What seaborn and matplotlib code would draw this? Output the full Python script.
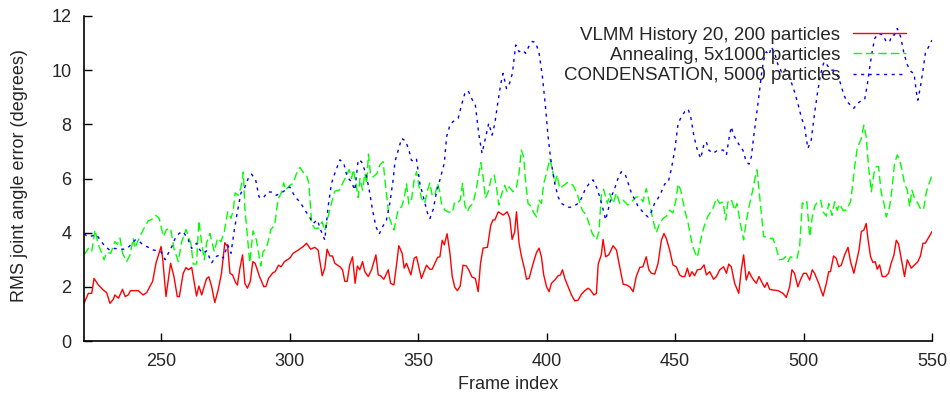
import numpy as np
import pandas as pd
import matplotlib
matplotlib.use("Agg")
import matplotlib.pyplot as plt
import seaborn as sns

# ---------------- data ----------------
labels = ["VLMM History 20, 200 particles",
          "Annealing, 5x1000 particles",
          "CONDENSATION, 5000 particles"]

vlmm_frame = [220, 221.7, 223, 223.9, 225.6, 227.5, 228.8, 230.1, 231.4, 232, 233.4, 235, 236, 237.2, 238.1, 239.8, 241.1, 243, 244.4, 246.7, 248, 250, 250.6, 251.9, 253.7, 255, 256.3, 257.1, 258.6, 259.7,
              260.6, 261.9, 263.8, 264.7, 265.8, 267.7, 268.6, 269.7, 270.9, 272.2, 273.5, 274.8, 275.9, 276.8, 277.8, 279, 279.7, 280.6, 281.7, 282.6, 283.6, 284.7, 285.7, 286.6, 288.3, 290, 290.9, 291.8, 293.5, 294.4, 295.7, 296.7, 298,
              300.1, 301.4, 303.4, 305.3, 306.6, 308.2, 309.8, 311.1, 312.7, 313.7, 314.6, 315.7, 316.7, 317.6, 319.6, 320.6, 321.5, 322.4, 323.4, 324.5, 325.5, 326.4, 327.3, 328.4, 329.3, 330.6, 331.9, 333.6, 334.5, 335.4, 336.7, 338.4, 339.3, 340.6, 341.7,
              342.5, 343.8, 344.6, 345.5, 347.2, 348.5, 349.4, 351.3, 353.3, 354.6, 355.5, 357.6, 358.5, 359.4, 360.2, 361.3, 362.4, 363.3, 364.3, 365.3, 366.4, 367.5, 368.8, 369.7, 371, 372.3, 373.4, 374.3, 375.3, 377, 378.3, 379.2, 379.9, 381.2,
              383.1, 384.7, 385.7, 386.6, 387.6, 388.3, 389.3, 390.2, 391.5, 392.2, 393.2, 394.8, 396.1, 397.1, 398, 398.9, 400, 401, 401.9, 403.2, 404.5, 405.4, 406.2, 407.1, 408.4, 409.7, 411, 412.3, 413.6, 414.9, 416.2, 417.1, 418.4, 419.4, 420.1, 421.3, 422, 423,
              424.2, 425.9, 427.2, 428.5, 429.8, 431.1, 432.4, 433.7, 434.9, 436.3, 437.5, 438.8, 439.8, 440.8, 442.1, 443.4, 444.7, 445.7, 446.6, 447.9, 449.2, 450.5, 451.8, 452.7, 453.8, 454.8, 455.7, 456.6, 457.6, 458.7, 460, 461.3, 462.2,
              463.5, 465, 466.1, 467.4, 468.9, 470, 470.9, 471.9, 473.2, 474.8, 475.8, 476.7, 477.7, 478.8, 479.7, 480.6, 481.6, 482.7, 484, 484.9, 485.8, 486.8, 488.4, 490.1, 492, 493.3, 494.6, 495.5, 496.5, 497.8, 498.9, 500, 501.1, 502.4, 503.4,
              504.3, 505.9, 507.6, 508.9, 509.8, 510.5, 511.7, 512.7, 513.7, 514.7, 516, 517.3, 518.3, 519.6, 520.9, 521.6, 522.5, 523.5, 524.4, 525.1, 526.1, 527, 527.9, 528.7, 529.6, 530.6, 531.9, 533.1, 534.1, 535.2, 536.1, 537, 538, 539.3, 540.4, 541.9, 543.2, 544.5, 545.5, 546.5, 547.4, 550]
vlmm_err = [1.39, 1.76, 1.76, 2.31, 2.07, 1.88, 1.79, 1.39, 1.54, 1.7, 1.58, 1.91, 1.64, 1.7, 1.86, 1.86, 1.86, 1.7, 1.79, 2.2, 2.87, 3.49, 3.06, 1.64, 2.87, 2.38, 1.64, 1.64, 2.5, 2.71,
            2.63, 2.72, 1.66, 2.03, 1.7, 2.31, 2.37, 2.0, 1.42, 1.88, 2.5, 3.63, 3.49, 2.5, 2.44, 2.16, 2.07, 2.65, 3.18, 2.13, 1.95, 2.2, 2.93, 2.87, 2.38, 2.0, 2.03, 2.31, 2.52, 2.56, 2.8, 2.74, 2.93,
            3.06, 3.24, 3.36, 3.49, 3.61, 3.39, 3.46, 3.36, 2.41, 2.69, 3.39, 3.14, 3.14, 2.87, 2.74, 2.63, 2.2, 2.2, 2.81, 3.11, 2.13, 2.77, 2.63, 2.93, 2.56, 2.38, 2.63, 3.18, 2.44, 2.41, 2.28, 2.63, 2.13, 2.07, 2.87,
            3.52, 3.24, 2.69, 2.87, 2.44, 3.06, 3.11, 2.31, 2.8, 2.65, 2.65, 3.09, 3.11, 3.72, 3.55, 3.96, 3.24, 2.38, 1.98, 1.86, 2.03, 2.8, 2.77, 2.63, 2.36, 2.31, 1.82, 2.87, 3.43, 3.46, 4.28, 4.47, 4.47, 4.77,
            4.65, 4.77, 4.53, 3.75, 4.03, 4.77, 3.61, 3.14, 2.63, 2.28, 2.31, 2.87, 3.27, 3.43, 3.11, 2.44, 2.0, 1.82, 2.13, 2.25, 2.41, 2.44, 2.63, 2.31, 2.0, 1.7, 1.48, 1.51, 1.73, 1.86, 1.95, 1.88, 1.7, 1.76, 2.84, 3.18, 3.75, 3.11,
            3.18, 3.52, 3.36, 2.74, 2.1, 2.07, 2.0, 1.82, 2.38, 2.72, 2.74, 3.11, 2.63, 2.5, 2.47, 2.87, 3.73, 3.97, 3.79, 3.36, 2.81, 2.74, 2.44, 2.38, 2.38, 2.69, 2.38, 2.56, 2.41, 2.63, 2.65, 2.81, 2.44,
            2.56, 2.28, 2.38, 2.63, 2.74, 2.5, 2.84, 2.74, 2.13, 1.76, 2.63, 3.18, 2.25, 2.56, 2.38, 2.25, 2.13, 2.38, 2.13, 1.98, 2.16, 1.91, 1.88, 1.86, 1.76, 1.61, 2.0, 2.63, 2.5, 2.0, 2.28, 2.5, 2.5, 2.25, 2.63,
            2.5, 2.13, 1.66, 2.13, 2.56, 2.56, 3.14, 3.06, 2.74, 2.8, 3.18, 3.46, 2.93, 2.5, 3.06, 3.36, 4.04, 4.1, 4.34, 3.75, 3.11, 2.9, 2.93, 2.65, 2.81, 2.38, 2.38, 2.5, 2.87, 3.18, 3.72, 3.58, 3.06, 2.38, 3.0, 2.69, 2.81, 2.93, 3.14, 3.61, 3.61, 4.04]

anneal_frame = [220, 221.7, 223, 224.3, 225.6, 226.9, 227.8, 228.8, 230.4, 232, 233, 234, 235, 236.6, 237.9, 239.2, 239.8, 241.1, 243, 245, 246.2, 248, 249.3, 250.9, 252.1, 253.7, 255, 256.7, 258, 259.7,
                260.6, 261.6, 262.5, 263.8, 264.7, 265.8, 266.8, 267.7, 269, 270.7, 272, 273.3, 274.6, 275.9, 277.2, 278.1, 278.8, 280.1, 281.1, 282, 282.6, 283.6, 284.5, 285.8, 287.1, 288.8, 289.7, 291, 292.7, 294.2, 295.5, 296.8, 297.7, 298.5,
                300.1, 301.4, 302.7, 304, 305.6, 306.6, 307.5, 308.6, 309.8, 311.1, 312.7, 313.7, 315, 316.3, 317.6, 319.3, 320.6, 321.9, 323.2, 324.1, 324.8, 325.8, 326.7, 327.4, 328.4, 329.3, 330, 330.7, 331.5, 332.5, 334.1, 335.1, 336.4, 337.4, 338.7, 339.6, 340.6,
                342.3, 343.6, 344.6, 345.5, 346.4, 347.4, 348.5, 349.4, 350.3, 351.3, 352.6, 353.7, 354.6, 355.5, 356.5, 357.6, 358.5, 359.1, 360.4, 361.7, 363.3, 364.3, 365.3, 366.4, 367.3, 368.2, 369.2, 370.1, 371.4, 372.7, 373.6, 374.4, 375.3, 376.2, 377.3, 378.6, 379.6, 380.5, 381.4,
                382.8, 383.7, 384.7, 385.4, 387, 388.3, 389.3, 390.2, 391.1, 391.9, 392.8, 394.1, 394.8, 396.1, 397.1, 398, 398.9, 400, 401.3, 402.3, 403.2, 404.1, 405.1, 406.7, 408.4, 410.3, 411.9, 412.9, 413.9, 415.5, 416.5, 417.8, 419.4, 420.4, 421.3, 422.2,
                423.7, 424.6, 425.9, 427.2, 428.5, 429.8, 431.7, 433.7, 434.9, 436.3, 437.5, 438.8, 440.1, 441.4, 442.7, 444, 445.3, 446.6, 447.9, 449.2, 450.5, 451.2, 452.2, 453.8, 455.1, 456.6, 457.6, 458.7, 460, 461.3, 462.8,
                464.8, 466.1, 467.4, 468.7, 469.7, 470.6, 471.9, 473.2, 474.1, 475.4, 476.7, 477.7, 478.8, 480.1, 481, 481.9, 482.7, 483.6, 484.5, 485.8, 486.8, 488.1, 489.4, 490.7, 492, 493, 494, 494.9, 496.2, 497.5, 498.5, 499.5, 500.4, 501.3, 502.4, 503.4,
                504.3, 505.4, 506.7, 507.6, 508.9, 509.8, 511.1, 512.1, 513.1, 514, 515.3, 516.6, 518.3, 519.2, 519.9, 520.9, 522.5, 523.5, 524.4, 525.3, 526.4, 527.4, 528.3, 529.2, 530.2, 531.3, 532.2, 533.5, 534.4, 535.4, 536.5, 537.4, 538.3, 539.3, 540.4, 541.3, 542.2, 543.2, 544.5, 545.8, 546.8, 547.8, 550]
anneal_err = [3.18, 3.42, 3.3, 4.1, 3.55, 3.24, 3.0, 3.27, 3.24, 3.67, 3.57, 3.8, 3.24, 2.93, 3.18, 3.8, 3.42, 3.73, 4.1, 4.44, 4.48, 4.64, 4.52, 3.85, 4.12, 4.16, 3.42, 2.93, 3.67, 4.12,
              3.85, 3.61, 2.84, 2.84, 4.44, 3.61, 3.0, 3.61, 3.97, 3.3, 3.8, 3.67, 4.04, 4.77, 4.53, 4.83, 5.47, 5.38, 5.69, 6.24, 4.9, 3.85, 2.89, 4.07, 3.73, 2.77, 3.3, 3.42, 4.12, 4.28, 5.23, 5.47, 5.84, 5.57,
              5.75, 5.82, 6.19, 6.41, 6.19, 6.13, 5.82, 4.34, 4.16, 4.16, 4.4, 4.07, 4.58, 5.1, 5.53, 5.57, 5.82, 6.06, 6.33, 6.0, 6.33, 5.82, 5.3, 6.0, 5.57, 6.19, 5.82, 6.9, 6.13, 6.06, 6.19, 6.5, 6.62, 5.69, 4.58, 4.34, 4.1,
              4.86, 4.96, 5.27, 5.8, 5.06, 5.2, 5.95, 6.25, 5.75, 5.27, 5.08, 5.57, 5.84, 5.38, 5.35, 5.82, 5.5, 5.08, 4.83, 4.77, 4.73, 5.14, 5.1, 5.2, 5.82, 5.02, 4.77, 4.96, 5.08, 5.63, 6.13, 6.59, 6.06, 5.27, 5.51, 6.06, 6.13, 5.69, 5.02,
              5.51, 5.75, 5.51, 5.69, 5.51, 5.69, 6.21, 7.05, 6.8, 5.82, 5.08, 4.96, 4.77, 4.58, 5.2, 5.08, 5.82, 6.19, 6.74, 6.33, 5.82, 6.13, 5.63, 5.75, 5.87, 5.75, 5.44, 5.14, 4.83, 4.64, 4.34, 3.97, 3.73, 4.04, 5.38, 5.6,
              5.08, 5.44, 5.08, 5.47, 5.08, 5.2, 5.02, 5.2, 5.32, 5.32, 5.14, 5.63, 5.08, 4.47, 4.0, 4.34, 4.52, 4.61, 4.83, 4.73, 5.27, 5.8, 5.57, 4.83, 4.34, 3.61, 3.3, 3.09, 3.73, 4.22, 4.61,
              4.9, 5.27, 5.08, 5.14, 4.47, 5.14, 5.23, 4.83, 5.08, 4.34, 3.73, 4.4, 4.96, 5.51, 5.95, 6.32, 5.57, 4.71, 3.85, 3.85, 3.79, 3.79, 3.42, 3.0, 3.02, 3.11, 2.93, 3.11, 3.06, 3.06, 3.49, 5.1, 5.02, 5.14, 3.85, 4.58,
              4.96, 5.14, 5.2, 4.77, 4.61, 5.08, 4.64, 5.14, 4.83, 5.06, 4.83, 4.83, 5.14, 5.82, 6.44, 7.11, 7.48, 7.97, 7.54, 6.44, 5.51, 6.19, 6.44, 6.44, 5.51, 5.08, 4.58, 4.96, 5.57, 6.56, 6.87, 6.68, 6.32, 5.82, 5.57, 4.96, 5.57, 5.27, 5.08, 4.83, 4.9, 5.51, 6.13]

cond_frame = [220, 221.7, 223, 224.9, 226.3, 228.2, 230.1, 232, 234, 236, 237.6, 239.9, 241.1, 243, 245, 246.9, 248.9, 250.2, 251.6, 252.8, 254.2, 255.5, 257.1, 258.6,
              260.6, 261.9, 263.8, 265.1, 266.4, 267.7, 269.7, 271.2, 272.9, 274.2, 275.9, 277.2, 278.5, 279.8, 281.1, 282.4, 283.9, 285.2, 286.8, 288.1, 289.7, 291.4, 293.2, 294.9, 296.8, 298.4,
              300.1, 302.1, 304, 306, 307.7, 309.2, 310.8, 312.1, 313.7, 315, 316.3, 317.6, 319.6, 321.1, 322.4, 324.1, 325.4, 326.7, 328, 329.7, 331, 332.3, 333.6, 334.9, 336.2, 337.7, 339, 340.3,
              341, 342.3, 343.6, 345.1, 346.4, 347.4, 348.5, 349.4, 350.7, 352.4, 353.7, 354.6, 355.9, 357.2, 358.5, 360.2, 361.1, 362.4, 363.6, 365.6, 366.9, 368.2, 369.5, 370.8, 372.3, 373.6, 374.9, 376.2, 377.5, 378.8, 379.9, 380.9, 382.2, 383.1,
              384.4, 385.4, 386.7, 388, 389.3, 390.6, 391.9, 393.2, 394.5, 395.8, 397.1, 398.4, 399.7, 400.6, 401.5, 402.3, 403.2, 404.5, 405.8, 407.5, 409, 410.6, 412.3, 413.6, 414.9, 416.6, 418.1, 419.4, 420.7, 422, 423,
              425.2, 426.5, 427.8, 429.1, 430.7, 432, 433.3, 434.6, 435.6, 436.9, 438.2, 439.5, 440.8, 442.1, 443.4, 444.7, 446, 447.3, 448.6, 449.9, 451.2, 452.5, 453.8, 455.1, 456.1, 457.4, 458.7, 460, 461.3, 462.2, 463.1,
              464.8, 466.7, 468.7, 470, 471, 471.9, 472.8, 473.9, 475.4, 476.4, 477.7, 478.8, 479.7, 480.6, 481.6, 482.7, 483.6, 484.5, 485.5, 486.6, 487.5, 488.8, 490.1, 491.4, 492.6, 493.9, 495.2, 496.5, 497.8, 499.1, 500.4, 501.7, 503,
              504.3, 505.4, 506.7, 508, 509.2, 510.5, 511.8, 513.1, 514.4, 515.7, 517, 518.3, 519.6, 520.9, 522.5, 523.8, 524.8, 525.7, 526.6, 527.7, 529.2, 530.9, 532.2, 533.5, 534.4, 535.4, 536.5, 537.8, 539.1, 540.4, 541.9, 543, 543.9, 544.5, 545.5, 546.4, 547.4, 550]
cond_err = [3.95, 3.85, 3.88, 3.92, 3.73, 3.49, 3.35, 3.42, 3.39, 3.39, 3.49, 3.73, 3.71, 3.55, 3.46, 3.36, 3.33, 3.27, 3.0, 3.24, 3.49, 3.8, 3.98, 4.04,
            3.73, 3.42, 3.61, 3.36, 3.24, 3.33, 2.89, 3.11, 3.18, 3.06, 3.55, 3.24, 4.1, 4.83, 5.47, 5.63, 6.0, 6.16, 5.95, 5.32, 5.27, 5.5, 5.5, 5.38, 5.47, 5.57,
            5.69, 5.32, 5.14, 4.83, 4.58, 4.34, 4.47, 4.1, 3.73, 4.96, 5.82, 6.19, 6.69, 6.56, 6.06, 5.87, 5.57, 6.69, 6.62, 6.19, 5.57, 4.83, 4.22, 3.95, 4.22, 4.47, 5.08, 5.95,
            6.62, 7.05, 7.48, 7.39, 7.07, 6.68, 6.62, 6.71, 5.82, 5.2, 4.71, 4.52, 4.86, 5.51, 5.95, 6.56, 7.54, 7.97, 8.1, 8.22, 8.71, 9.14, 9.24, 8.96, 8.71, 7.66, 6.93, 7.48, 8.04, 7.6, 8.04, 8.71, 9.51, 9.88,
            9.32, 9.45, 9.88, 10.93, 10.68, 10.74, 10.62, 10.9, 11.06, 11.02, 10.62, 9.76, 8.53, 7.54, 6.81, 6.32, 5.82, 5.32, 5.08, 4.98, 4.93, 4.98, 5.08, 5.27, 5.57, 5.82, 5.95, 5.69, 5.32, 4.86, 4.47,
            5.32, 5.63, 6.0, 6.25, 6.13, 5.75, 5.38, 5.2, 4.96, 4.83, 4.68, 4.58, 4.77, 5.1, 5.27, 5.51, 5.8, 5.84, 6.37, 7.05, 8.04, 8.28, 8.47, 8.56, 8.28, 7.54, 7.05, 6.74, 7.29, 7.35, 7.05,
            6.93, 7.05, 7.05, 6.87, 7.48, 7.91, 7.6, 7.42, 7.17, 7.05, 6.62, 6.53, 6.8, 7.54, 8.28, 9.08, 9.82, 10.37, 10.68, 10.56, 10.86, 10.62, 10.19, 9.94, 10.06, 9.88, 9.57, 9.2, 8.77, 8.28, 7.91, 7.11, 7.42,
            8.4, 9.14, 9.88, 10.31, 10.19, 10.0, 10.0, 9.82, 9.51, 9.08, 8.83, 8.71, 8.59, 8.77, 8.87, 8.92, 9.45, 10.06, 10.62, 11.17, 11.36, 11.3, 11.05, 11.05, 11.3, 11.3, 11.54, 11.23, 10.62, 10.19, 9.94, 9.88, 9.2, 8.89, 9.39, 9.94, 10.62, 11.11]

x_ticks = [250, 300, 350, 400, 450, 500, 550]
y_ticks = [0, 2, 4, 6, 8, 10, 12]

# ---------------- build long table ----------------
df = pd.concat([
    pd.DataFrame({"frame": vlmm_frame, "err": vlmm_err, "series": labels[0]}),
    pd.DataFrame({"frame": anneal_frame, "err": anneal_err, "series": labels[1]}),
    pd.DataFrame({"frame": cond_frame, "err": cond_err, "series": labels[2]}),
], ignore_index=True)

sns.set_style("ticks")
plt.rcParams["font.family"] = ["Liberation Sans", "DejaVu Sans"]
plt.rcParams["font.size"] = 13

fig = plt.figure(figsize=(9.5, 4.01), dpi=100)
ax = fig.add_axes([84 / 950, 60 / 401, 848 / 950, 325 / 401])

palette = {labels[0]: "#ff0000", labels[1]: "#00ff00", labels[2]: "#0000ff"}
dashes = {labels[0]: "", labels[1]: (6, 3), labels[2]: (2.2, 3.3)}
sns.lineplot(data=df, x="frame", y="err", hue="series", style="series",
             hue_order=labels, style_order=labels, palette=palette, dashes=dashes,
             estimator=None, sort=False, linewidth=1.0, legend=False, ax=ax)

ax.set_xlim(220, 550)
ax.set_ylim(0, 12)
ax.set_xticks(x_ticks)
ax.set_yticks(y_ticks)
ax.tick_params(direction="in", length=6, width=1, labelsize=13, color="black")
ax.tick_params(axis="x", pad=9)
ax.tick_params(axis="y", pad=9)
sns.despine(ax=ax)
for s in ["left", "bottom"]:
    ax.spines[s].set_linewidth(1.2)
    ax.spines[s].set_color("black")

ax.set_xlabel("Frame index", fontsize=13)
ax.set_ylabel("RMS joint angle error (degrees)", fontsize=13)
ax.xaxis.set_label_coords(0.5, -0.108)
ax.yaxis.set_label_coords(-0.066, 0.51)

leg = ax.legend(ax.lines[:3], labels, loc="upper right", bbox_to_anchor=(0.969, 0.967),
                frameon=False, markerfirst=False, fontsize=13.5, handlelength=2.8,
                handletextpad=0.7, labelspacing=0.16, borderpad=0, borderaxespad=0)

fig.savefig("out.png", dpi=100)
